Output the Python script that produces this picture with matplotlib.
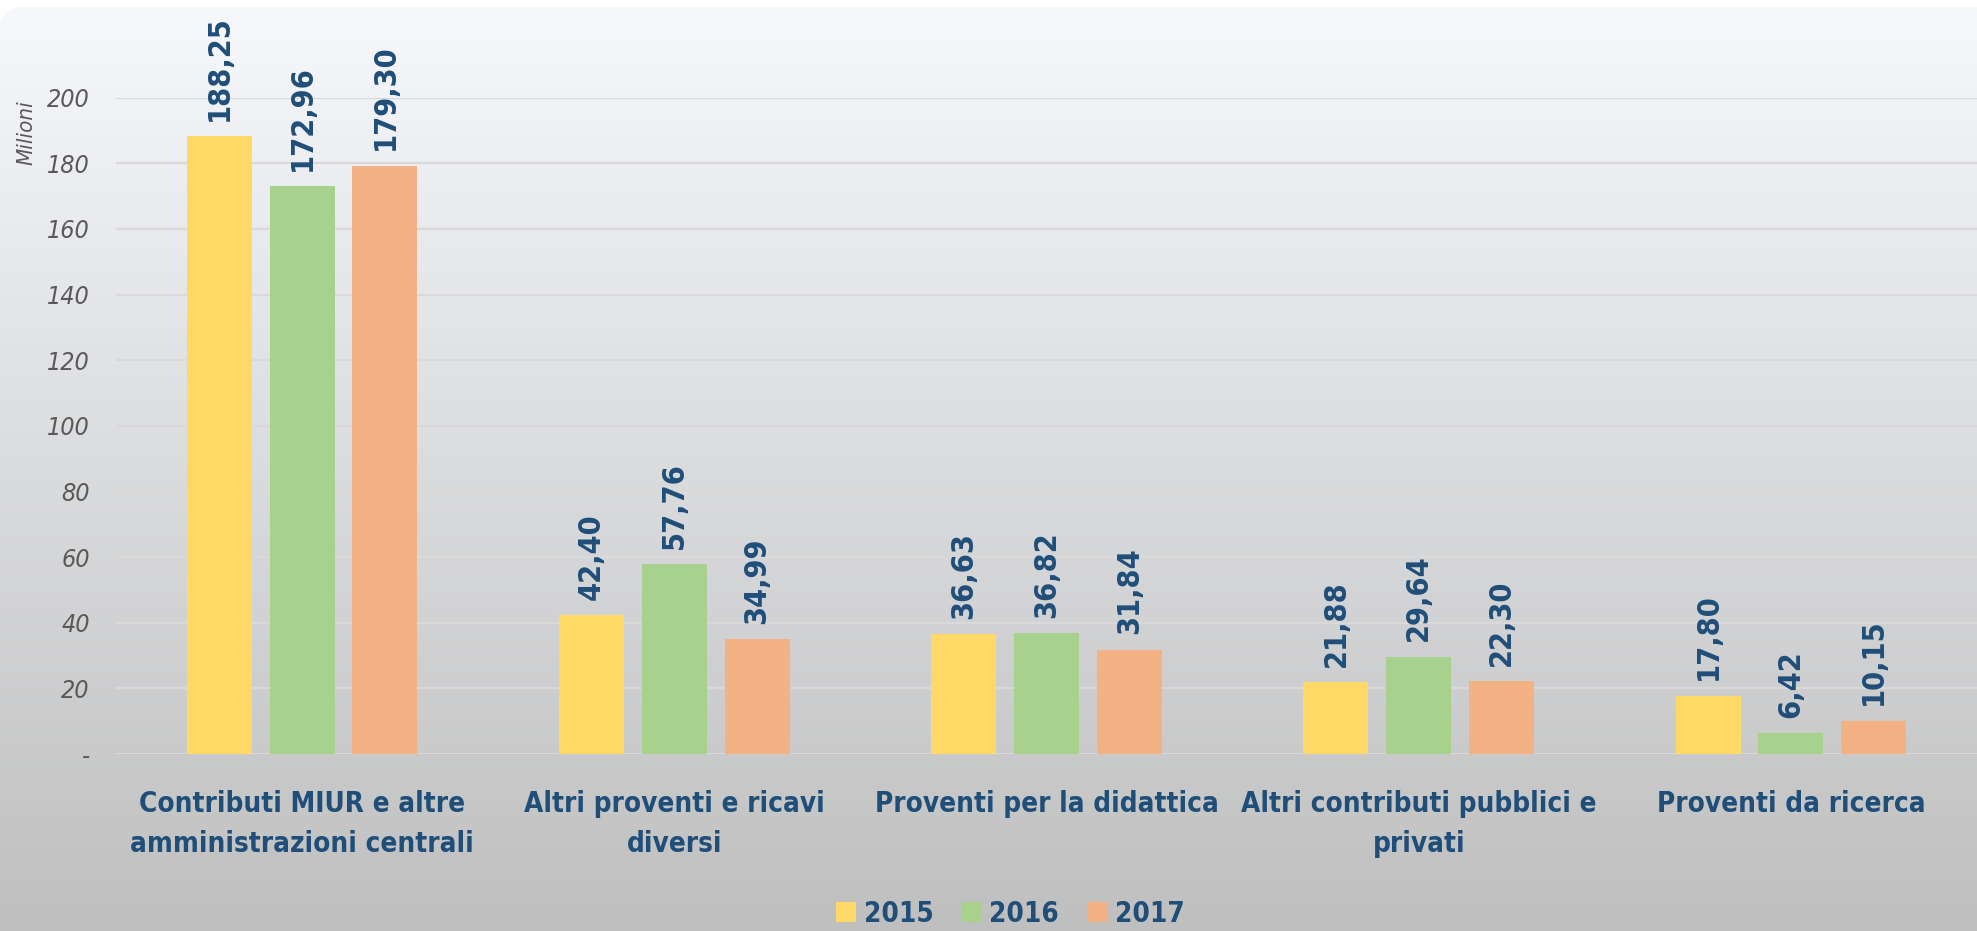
import numpy as np
import matplotlib
matplotlib.use("Agg")
import matplotlib.pyplot as plt
from matplotlib import font_manager as fm
from matplotlib.patches import FancyBboxPatch, Patch

# data (milioni di euro)
categories = ["Contributi MIUR e altre\namministrazioni centrali",
              "Altri proventi e ricavi\ndiversi",
              "Proventi per la didattica",
              "Altri contributi pubblici e\nprivati",
              "Proventi da ricerca"]
years = ["2015", "2016", "2017"]
v2015 = [188.25, 42.40, 36.63, 21.88, 17.80]
v2016 = [172.96, 57.76, 36.82, 29.64, 6.42]
v2017 = [179.30, 34.99, 31.84, 22.30, 10.15]
yticks = [0, 20, 40, 60, 80, 100, 120, 140, 160, 180, 200]
ytick_labels = ["-"] + [str(t) for t in yticks[1:]]

colors = ["#FFD966", "#A9D18E", "#F4B183"]
navy = "#1F4E79"


# look for a narrow font, else fall back to Liberation Sans with smaller sizes
def find_narrow(bold=False, italic=False):
    for f in fm.fontManager.ttflist:
        n = (f.fname + " " + f.name).lower()
        if "narrow" in n or "condensed" in n:
            b = f.weight in ("bold", 700) or "bold" in f.fname.lower()
            it = f.style in ("italic", "oblique")
            if b == bold and it == italic:
                return f.fname
    return None


nb = find_narrow(bold=True)
ni = find_narrow(italic=True)
if nb:
    bold_fp = lambda s: fm.FontProperties(fname=nb, size=s)
    k = 1.0
else:
    bold_fp = lambda s: fm.FontProperties(family="Liberation Sans", weight="bold", size=s)
    k = 0.85
if ni:
    ital_fp = lambda s: fm.FontProperties(fname=ni, size=s)
    ki = 1.0
else:
    ital_fp = lambda s: fm.FontProperties(family="Liberation Sans", style="italic", size=s)
    ki = 0.85
plt.rcParams["font.family"] = ["Liberation Sans", "DejaVu Sans"]

W, H = 1977, 931
fig = plt.figure(figsize=(W / 100, H / 100), dpi=100)
fig.patch.set_facecolor("white")

# gradient background panel (rounded top-left corner)
bg = fig.add_axes([0, 0, 1, 1])
bg.set_xlim(0, W)
bg.set_ylim(H, 0)
bg.axis("off")
top = np.array([246, 248, 252]) / 255
bot = np.array([191, 191, 191]) / 255
t = np.linspace(0, 1, 256)[:, None]
grad = (top[None, :] * (1 - t) + bot[None, :] * t)[:, None, :]
im = bg.imshow(grad, extent=[0, W, H, 7], aspect="auto", zorder=0)
panel = FancyBboxPatch((0, 7), W + 60, H + 60, boxstyle="round,pad=0,rounding_size=22",
                       transform=bg.transData, facecolor="none", edgecolor="none")
bg.add_patch(panel)
im.set_clip_path(panel)

# main axes
ax = fig.add_axes([116 / W, 1 - 754 / H, (W - 116) / W, (754 - 97.7) / H])
ax.patch.set_alpha(0)
x = np.arange(len(categories))
step = 0.2225
width = 0.175
for i, (vals, c) in enumerate(zip([v2015, v2016, v2017], colors)):
    pos = x + (i - 1) * step
    ax.bar(pos, vals, width=width, color=c, zorder=3, label=years[i])
    for px, v in zip(pos, vals):
        ax.annotate(f"{v:.2f}".replace(".", ","), (px, v), xytext=(0, 11),
                    textcoords="offset points", rotation=90, ha="center", va="bottom",
                    fontproperties=bold_fp(22 * k), color=navy, annotation_clip=False)

ax.set_xlim(-0.5, len(categories) - 0.5)
ax.set_ylim(0, 200)
ax.set_yticks(yticks)
ax.set_yticklabels(ytick_labels, fontproperties=ital_fp(18 * ki), color="#595959")
ax.yaxis.grid(True, color="#D9D9D9", linewidth=1.6, zorder=0)
ax.set_axisbelow(True)
ax.tick_params(axis="y", length=0, pad=19)
ax.set_xticks(x)
ax.set_xticklabels(categories, fontproperties=bold_fp(20 * k), color=navy, linespacing=1.55)
ax.tick_params(axis="x", length=0, pad=26)
for s in ax.spines.values():
    s.set_visible(False)

fig.text(26 / W, 1 - 133 / H, "Milioni", rotation=90, ha="center", va="center",
         fontproperties=ital_fp(16 * ki), color="#595959")

handles = [Patch(facecolor=c, edgecolor="none") for c in colors]
fig.legend(handles, years, loc="center", bbox_to_anchor=(1010 / W, 1 - 914 / H), ncol=3,
           frameon=False, prop=bold_fp(20 * k), labelcolor=navy,
           handlelength=0.72 / k, handleheight=0.72 / k, handletextpad=0.29,
           columnspacing=1.0, borderpad=0, borderaxespad=0)

fig.savefig("out.png", dpi=100)
